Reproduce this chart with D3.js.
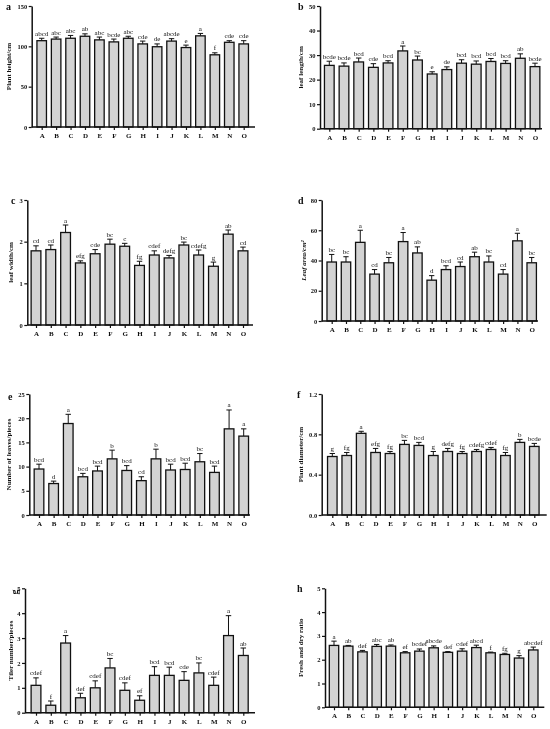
<!DOCTYPE html>
<html>
<head>
<meta charset="utf-8">
<script src="https://cdn.jsdelivr.net/npm/d3@7"></script>
<style>
body{margin:0;background:#fff}
svg{display:block;will-change:transform;-webkit-font-smoothing:antialiased}
text{font-family:"Liberation Serif","Times New Roman",serif;fill:#111}
</style>
</head>
<body>
<svg id="chart" width="550" height="729"></svg>
<script>
// treatments
var cats = ["A","B","C","D","E","F","G","H","I","J","K","L","M","N","O"];

// a - plant height
var heightMean = [107,109,110,112.5,108,105.5,110,103,99.5,106.5,98.5,113,89.5,105,103];
var heightErr  = [3,2.5,3.5,3,3.5,3.5,2.5,3.5,3.5,3,3,3,2.5,2,4];
var heightSig  = ["abcd","abc","abc","ab","abc","bcde","abc","cde","de","abcde","e","a","f","cde","cde"];

// b - leaf length
var lengthMean = [25.8,25.5,27.2,25,26.8,31.7,28,22.3,24.1,26.7,26.3,27.4,26.6,28.7,25.3];
var lengthErr  = [1.7,1.3,1.6,1.5,0.9,2,1.6,0.9,1.1,1.4,1.3,1.2,1.1,1.8,1.4];
var lengthSig  = ["bcde","bcde","bcd","cde","bcd","a","bc","e","de","bcd","bcd","bcd","bcd","ab","bcde"];

// c - leaf width
var widthMean = [1.78,1.81,2.22,1.49,1.71,1.94,1.89,1.43,1.68,1.61,1.92,1.68,1.41,2.18,1.78];
var widthErr  = [0.12,0.11,0.18,0.05,0.1,0.12,0.07,0.1,0.1,0.06,0.07,0.12,0.1,0.1,0.09];
var widthSig  = ["cd","cd","a","efg","cde","bc","c","fg","cdef","defg","bc","cdefg","g","ab","cd"];

// d - leaf area
var areaMean = [39,39,52,31,38.5,52.5,45,27,34,36,42.5,39,31,53,38.5];
var areaErr  = [5,3.5,8,3,3.5,6,4,3,2.5,3,3,4,3,5,3.5];
var areaSig  = ["bc","bc","a","cd","bc","a","ab","d","bcd","cd","ab","bc","cd","a","bc"];

// e - number of leaves
var leavesMean = [9.5,6.5,18.9,7.9,9.1,11.6,9.2,7.1,11.6,9.3,9.4,11,8.8,17.8,16.3];
var leavesErr  = [1,0.5,1.9,0.7,1,1.8,1,0.8,2,1.2,1.3,1.7,1.3,3.9,1.5];
var leavesSig  = ["bcd","d","a","bcd","bcd","b","bcd","cd","b","bcd","bcd","bc","bcd","a","a"];

// f - plant diameter
var diamMean = [0.58,0.59,0.81,0.62,0.61,0.70,0.69,0.59,0.63,0.61,0.63,0.65,0.59,0.72,0.68];
var diamErr  = [0.03,0.03,0.02,0.04,0.02,0.04,0.03,0.04,0.03,0.02,0.02,0.02,0.03,0.03,0.03];
var diamSig  = ["g","fg","a","efg","fg","bc","bcd","g","defg","fg","cdefg","cdef","fg","b","bcde"];

// g - tiller number
var tillerMean = [1.1,0.3,2.8,0.6,1.0,1.8,0.9,0.5,1.5,1.5,1.3,1.6,1.1,3.1,2.3];
var tillerErr  = [0.3,0.17,0.3,0.18,0.28,0.38,0.3,0.18,0.35,0.33,0.35,0.4,0.33,0.8,0.3];
var tillerSig  = ["cdef","f","a","def","cdef","bc","cdef","ef","bcd","bcd","cde","bc","cdef","a","ab"];

// h - fresh/dry ratio
var ratioMean = [2.6,2.57,2.33,2.56,2.57,2.29,2.36,2.5,2.31,2.36,2.51,2.29,2.22,2.07,2.41];
var ratioErr  = [0.18,0.03,0.06,0.08,0.05,0.05,0.09,0.08,0.03,0.1,0.1,0.03,0.05,0.1,0.12];
var ratioSig  = ["a","ab","def","abc","ab","ef","bcdef","abcde","def","cdef","abcd","f","fg","g","abcdef"];

var svg = d3.select("#chart");
svg.append("rect").attr("width",550).attr("height",729).attr("fill","#fff");

var panels = [
  {tag:"a", title:"Plant height/cm", mean:heightMean, err:heightErr, sig:heightSig, ticks:[0,50,100,150], fmt:d3.format("d"),
   left:31.7, right:255, top:6, bottom:127, c0:41.7, c1:243.7, tx:6, ty:10, yx:9},
  {tag:"b", title:"leaf length/cm", mean:lengthMean, err:lengthErr, sig:lengthSig, ticks:[0,10,20,30,40,50], fmt:d3.format("d"),
   left:320, right:542, top:6, bottom:128.7, c0:329.3, c1:535, tx:298, ty:10, yx:301},
  {tag:"c", title:"leaf width/cm", mean:widthMean, err:widthErr, sig:widthSig, ticks:[0,1,2,3], fmt:d3.format("d"),
   left:27.3, right:253, top:200, bottom:325, c0:36, c1:243, tx:11, ty:204, yx:11},
  {tag:"d", title:"Leaf area/cm²", mean:areaMean, err:areaErr, sig:areaSig, ticks:[0,20,40,60,80], fmt:d3.format("d"), italic:true,
   left:321.7, right:538, top:200, bottom:321, c0:331.7, c1:531.7, tx:298, ty:204, yx:304},
  {tag:"e", title:"Number of leaves/pieces", mean:leavesMean, err:leavesErr, sig:leavesSig, ticks:[0,5,10,15,20,25], fmt:d3.format("d"),
   left:29.3, right:250, top:394, bottom:515, c0:39, c1:243.7, tx:8, ty:400, yx:9},
  {tag:"f", title:"Plant diameter/cm", mean:diamMean, err:diamErr, sig:diamSig, ticks:[0,0.4,0.8,1.2], fmt:d3.format(".1f"),
   left:321.7, right:546.7, top:394, bottom:515, c0:332.3, c1:534.3, tx:297, ty:398, yx:301},
  {tag:"g", title:"Tiler number/pieces", mean:tillerMean, err:tillerErr, sig:tillerSig, ticks:[0,1,2,3,4,5], fmt:d3.format("d"), rotTag:true,
   left:25, right:255, top:588.3, bottom:712.7, c0:36, c1:243.3, tx:18, ty:592, yx:11},
  {tag:"h", title:"Fresh and dry ratio", mean:ratioMean, err:ratioErr, sig:ratioSig, ticks:[0,1,2,3,4,5], fmt:d3.format("d"),
   left:325, right:544.3, top:588.3, bottom:707.3, c0:334, c1:533.3, tx:297, ty:592, yx:301}
];

function drawPanel(p) {
  var g = svg.append("g");
  var x = d3.scalePoint().domain(cats).range([p.c0, p.c1]);
  var y = d3.scaleLinear().domain([0, p.ticks[p.ticks.length-1]]).range([p.bottom, p.top]);
  var bw = x.step()*0.66;
  var rows = cats.map(function(c,i){ return {c:c, v:p.mean[i], e:p.err[i], s:p.sig[i]}; });

  // error bars (upper half only)
  g.selectAll(".eb").data(rows).enter().append("line")
    .attr("x1", function(d){ return x(d.c); }).attr("x2", function(d){ return x(d.c); })
    .attr("y1", function(d){ return y(d.v); }).attr("y2", function(d){ return y(d.v+d.e); })
    .attr("stroke","#111").attr("stroke-width",1);
  g.selectAll(".cap").data(rows).enter().append("line")
    .attr("x1", function(d){ return x(d.c)-bw*0.28; }).attr("x2", function(d){ return x(d.c)+bw*0.28; })
    .attr("y1", function(d){ return y(d.v+d.e); }).attr("y2", function(d){ return y(d.v+d.e); })
    .attr("stroke","#111").attr("stroke-width",1);

  g.selectAll(".bar").data(rows).enter().append("rect")
    .attr("x", function(d){ return x(d.c)-bw/2; })
    .attr("y", function(d){ return y(d.v); })
    .attr("width", bw)
    .attr("height", function(d){ return y(0)-y(d.v); })
    .attr("fill","#d3d3d3").attr("stroke","#111").attr("stroke-width",1.3);

  g.selectAll(".sig").data(rows).enter().append("text")
    .attr("x", function(d){ return x(d.c); })
    .attr("y", function(d){ return y(d.v+d.e)-2.5; })
    .attr("text-anchor","middle").attr("font-size",7)
    .text(function(d){ return d.s; });

  // y axis
  var ya = g.append("g").attr("transform","translate("+p.left+",0)")
    .call(d3.axisLeft(y).tickValues(p.ticks).tickFormat(p.fmt).tickSize(3).tickSizeOuter(0));
  ya.select(".domain").attr("stroke","#111").attr("stroke-width",1.5);
  ya.selectAll(".tick line").attr("stroke","#111").attr("stroke-width",1.2);
  ya.selectAll(".tick text").attr("font-family","Liberation Serif").attr("font-weight","bold")
    .attr("font-size",6.5).attr("fill","#111").attr("x",-4.5);

  // x axis
  var xa = g.append("g").attr("transform","translate(0,"+p.bottom+")")
    .call(d3.axisBottom(x).tickSize(3).tickSizeOuter(0));
  xa.select(".domain").remove();
  xa.append("line").attr("x1",p.left).attr("x2",p.right).attr("stroke","#111").attr("stroke-width",1.5);
  xa.selectAll(".tick line").attr("stroke","#111").attr("stroke-width",1.2);
  xa.selectAll(".tick text").attr("font-family","Liberation Serif").attr("font-weight","bold")
    .attr("font-size",7).attr("fill","#111").attr("y",6);

  // axis title
  g.append("text")
    .attr("transform","translate("+p.yx+","+((p.top+p.bottom)/2)+") rotate(-90)")
    .attr("text-anchor","middle").attr("dy","0.35em")
    .attr("font-size",7).attr("font-weight","bold")
    .attr("font-style", p.italic ? "italic" : "normal")
    .text(p.title);

  // panel tag
  var t = g.append("text").attr("font-size",10).attr("font-weight","bold").text(p.tag);
  if (p.rotTag) {
    t.attr("transform","translate("+p.tx+","+p.ty+") rotate(-90)").attr("text-anchor","middle");
  } else {
    t.attr("x",p.tx).attr("y",p.ty);
  }
}

panels.forEach(drawPanel);
</script>
</body>
</html>
